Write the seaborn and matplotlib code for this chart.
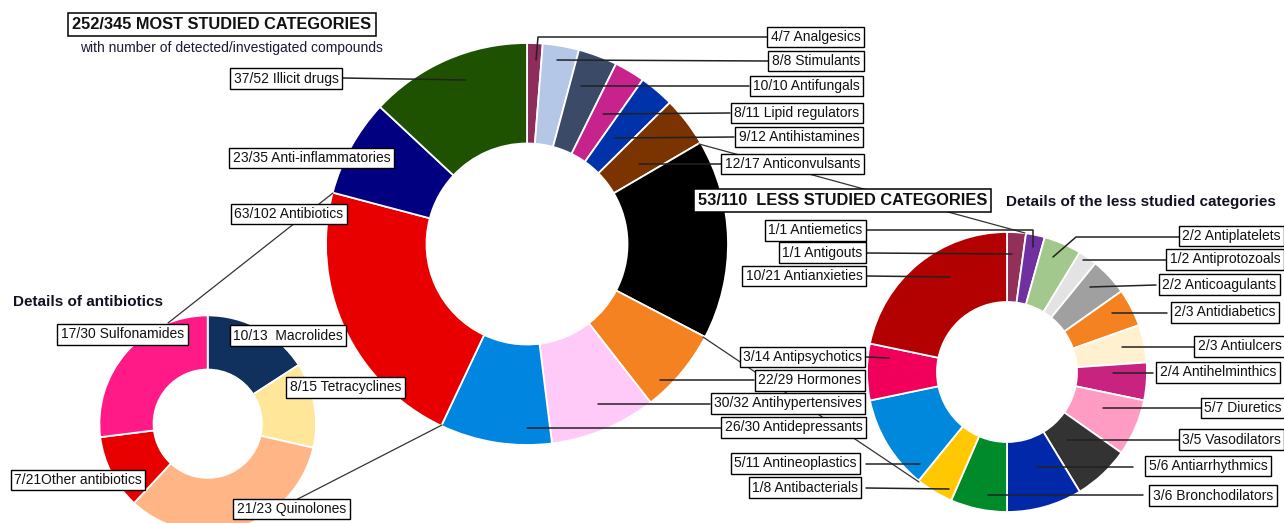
import numpy as np
import matplotlib
matplotlib.use("Agg")
import matplotlib.pyplot as plt
import seaborn as sns

sns.set_style("white")
plt.rcParams['font.family'] = ['Liberation Sans', 'DejaVu Sans']

W, H = 1284, 523

# ---- data ----
# most studied categories (clockwise from 12 o'clock)
main_names = ["Analgesics", "Stimulants", "Antifungals", "Lipid regulators", "Antihistamines",
              "Anticonvulsants", "LESS STUDIED CATEGORIES", "Hormones", "Antihypertensives",
              "Antidepressants", "Antibiotics", "Anti-inflammatories", "Illicit drugs"]
main_detected = [4, 8, 10, 8, 9, 12, 53, 22, 30, 26, 63, 23, 37]
main_investigated = [7, 8, 10, 11, 12, 17, 110, 29, 32, 30, 102, 35, 52]
# slice sizes (degrees)
main_share = [4.5, 10.5, 11.3, 8.9, 10.1, 14.4, 57.9, 24.5, 30.8, 32.4, 79.6, 28.2, 47.0]
main_colors = ['#8E2D5C', '#B4C7E7', '#3B4A66', '#C7238C', '#0033AA', '#7B3300', '#000000',
               '#F58220', '#FFCAF7', '#0085E0', '#E80000', '#000080', '#1F5200']

# antibiotics detail
ab_names = ["Macrolides", "Tetracyclines", "Quinolones", "Other antibiotics", "Sulfonamides"]
ab_detected = [10, 8, 21, 7, 17]
ab_investigated = [13, 15, 23, 21, 30]
ab_sep = ["  ", " ", " ", "", " "]
ab_colors = ['#10305E', '#FFE699', '#FFB586', '#E80000', '#FF1A88']

# less studied detail
ls_names = ["Antiemetics", "Antigouts", "Antiplatelets", "Antiprotozoals", "Anticoagulants",
            "Antidiabetics", "Antiulcers", "Antihelminthics", "Diuretics", "Vasodilators",
            "Antiarrhythmics", "Bronchodilators", "Antibacterials", "Antineoplastics",
            "Antipsychotics", "Antianxieties"]
ls_detected = [1, 1, 2, 1, 2, 2, 2, 2, 5, 3, 5, 3, 1, 5, 3, 10]
ls_investigated = [1, 1, 2, 2, 2, 3, 3, 4, 7, 5, 6, 6, 8, 11, 14, 21]
# slice sizes
ls_share = [1, 1, 2, 1, 2, 2, 2, 2, 3, 3, 4, 3, 2, 5, 3, 10]
ls_colors = ['#93305A', '#7030A0', '#A3C88E', '#E3E3E3', '#A0A0A0', '#F58220', '#FFF0CF',
             '#C8237F', '#FF9CC4', '#333333', '#0028A8', '#008A2A', '#FFC800', '#0088DD',
             '#F0005A', '#B30000']

# ---- layout (pixel coords, y down) ----
main_c, main_r = (527, 244), 201
ab_c, ab_r = (207.7, 423.7), 108.3
ls_c, ls_r = (1007, 372), 140

# box centres for labels
main_pos = [(815.5, 37), (816, 61), (806.5, 86), (797, 113), (799, 137), (792.5, 164), None,
            (810, 380.5), (788, 403.5), (793.5, 427.5), (289, 214), (311.5, 158), (286, 78.5)]
ab_pos = [(288, 335.5), (345.5, 387.5), (291.5, 509), (78, 480), (122.5, 334.5)]
ls_pos = [(815.5, 230.5), (822.5, 252.5), (1231.5, 236), (1225, 259.5), (1219.5, 284.5),
          (1225, 312.5), (1239.5, 346.5), (1218, 372.5), (1243, 408), (1231.5, 439.5),
          (1208, 466), (1213, 495.5), (805, 487.5), (795.5, 463.5), (802.5, 357), (804, 276)]

# leader lines
main_lines = [[(767, 37), (538, 37), (536, 60)], [(768, 61), (557, 60)], [(749, 86), (581, 86)],
              [(730, 113), (603, 114)], [(734, 137), (615, 138)], [(721, 164), (639, 164)],
              None, [(754, 380), (660, 380)], [(710, 404), (598, 404)], [(721, 428), (527, 428)],
              None, None, [(342, 78), (466, 80)]]
ls_lines = [[(867, 230), (1033, 230), (1033, 247)], [(867, 253), (1012, 254)],
            [(1180, 237), (1076, 237), (1053, 257)], [(1167, 260), (1083, 260)],
            [(1156, 285), (1090, 287)], [(1167, 313), (1112, 313)], [(1196, 347), (1122, 347)],
            [(1153, 373), (1113, 373)], [(1203, 408), (1103, 408)], [(1180, 440), (1067, 440)],
            [(1133, 467), (1037, 467)], [(1143, 495), (988, 495)], [(866, 488), (949, 489)],
            [(866, 464), (920, 464)], [(866, 357), (889, 358)], [(867, 276), (950, 277)]]
zoom_lines = [[(699, 144), (1025, 233)], [(703, 337), (919, 482)],
              [(333, 193), (168, 323)], [(442, 425), (290, 503)]]

fig = plt.figure(figsize=(W / 100, H / 100), dpi=100)
ax = fig.add_axes([0, 0, 1, 1])


def donut(share, colors, c, r):
    # y axis is inverted, so startangle -90 + counterclock gives clockwise from top
    ax.pie(share, colors=colors, center=c, radius=r, startangle=-90, counterclock=True,
           wedgeprops=dict(width=r * 0.5, edgecolor='white', linewidth=1.3))


donut(main_share, main_colors, main_c, main_r)
donut(ab_detected, ab_colors, ab_c, ab_r)
donut(ls_share, ls_colors, ls_c, ls_r)

for ln in zoom_lines:
    xs, ys = zip(*ln)
    ax.plot(xs, ys, color='#333333', lw=0.9, zorder=3)

for ln in main_lines + ls_lines:
    if ln is None:
        continue
    xs, ys = zip(*ln)
    ax.plot(xs, ys, color='#222222', lw=1.1, zorder=4)

box = dict(boxstyle='square,pad=0.25', fc='white', ec='black', lw=1.0)


def label(pos, txt, **kw):
    ax.text(pos[0], pos[1], txt, ha='center', va='center', fontsize=10, color='#111111',
            bbox=box, zorder=6, **kw)


for i, nm in enumerate(main_names):
    if main_pos[i] is not None:
        label(main_pos[i], f"{main_detected[i]}/{main_investigated[i]} {nm}")
for i, nm in enumerate(ab_names):
    label(ab_pos[i], f"{ab_detected[i]}/{ab_investigated[i]}{ab_sep[i]}{nm}")
for i, nm in enumerate(ls_names):
    label(ls_pos[i], f"{ls_detected[i]}/{ls_investigated[i]} {nm}")

# headers
ax.text(222, 24.5, f"{sum(main_detected) - main_detected[6]}/{sum(main_investigated) - main_investigated[6]} MOST STUDIED CATEGORIES",
        ha='center', va='center', fontsize=11.8, fontweight='bold', color='#111111',
        bbox=dict(boxstyle='square,pad=0.25', fc='white', ec='black', lw=1.1), zorder=6)
ax.text(231.5, 48, "with number of detected/investigated compounds", ha='center', va='center',
        fontsize=10, color='#1a1a33')
ax.text(842.5, 200.5, f"{main_detected[6]}/{main_investigated[6]}  LESS STUDIED CATEGORIES",
        ha='center', va='center', fontsize=11.8, fontweight='bold', color='#111111',
        bbox=dict(boxstyle='square,pad=0.25', fc='white', ec='black', lw=1.1), zorder=6)
ax.text(1006, 202, "Details of the less studied categories", ha='left', va='center',
        fontsize=11, fontweight='bold', color='#111122')
ax.text(13, 302, "Details of antibiotics", ha='left', va='center',
        fontsize=11, fontweight='bold', color='#111122')

ax.set_aspect('equal')
ax.set_xlim(0, W)
ax.set_ylim(H, 0)
ax.axis('off')

fig.savefig("out.png", dpi=100, facecolor='white')
